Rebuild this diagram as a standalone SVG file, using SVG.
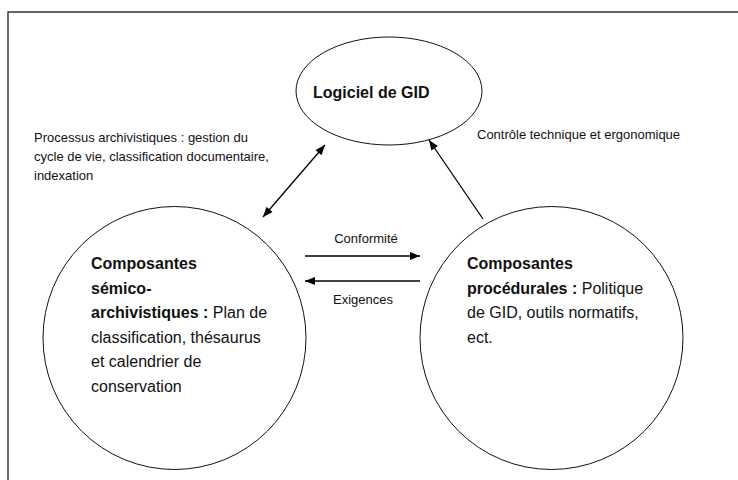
<svg xmlns="http://www.w3.org/2000/svg" width="738" height="480" viewBox="0 0 738 480">
<style>
.shape{fill:none;stroke:#111;stroke-width:1}
.frame{fill:none;stroke:#333;stroke-width:1.4}
.conn{stroke:#000;stroke-width:1.3;fill:none}
text{font-family:"Liberation Sans",Arial,sans-serif;fill:#111}
.lbl{font-size:13px}
.body{font-size:16px}
.b{font-weight:bold}
</style>
<defs>
<marker id="ah" viewBox="0 0 10 8" refX="10" refY="4" markerWidth="11" markerHeight="8" markerUnits="userSpaceOnUse" orient="auto-start-reverse">
<path d="M0,0 L10,4 L0,8 Z" fill="#000"/>
</marker>
</defs>
<rect width="738" height="480" fill="#fff"/>
<path class="frame" d="M8,480 V12 H738"/>
<g id="logiciel">
<ellipse class="shape" cx="389" cy="91" rx="93" ry="54"/>
<text class="body b" x="313" y="98">Logiciel de GID</text>
</g>
<g id="semico">
<circle class="shape" cx="174.5" cy="338" r="131.5"/>
<text class="body"><tspan class="b" x="91" y="269">Composantes</tspan><tspan class="b" x="91" y="293.5">sémico-</tspan><tspan x="91" y="318"><tspan class="b">archivistiques :</tspan> Plan de</tspan><tspan x="91" y="342.5">classification, thésaurus</tspan><tspan x="91" y="367">et calendrier de</tspan><tspan x="91" y="391.5">conservation</tspan></text>
</g>
<g id="procedurales">
<circle class="shape" cx="551.5" cy="338" r="131.5"/>
<text class="body"><tspan class="b" x="467" y="269">Composantes</tspan><tspan x="467" y="293.5"><tspan class="b">procédurales :</tspan> Politique</tspan><tspan x="467" y="318">de GID, outils normatifs,</tspan><tspan x="467" y="342.5">ect.</tspan></text>
</g>
<g id="connectors">
<line class="conn" x1="263" y1="217" x2="325" y2="145" marker-start="url(#ah)" marker-end="url(#ah)"/>
<line class="conn" x1="483" y1="219" x2="429" y2="140" marker-end="url(#ah)"/>
<line class="conn" x1="305" y1="256" x2="420" y2="256" marker-end="url(#ah)"/>
<line class="conn" x1="420" y1="281" x2="305" y2="281" marker-end="url(#ah)"/>
<text class="lbl"><tspan x="34" y="142">Processus archivistiques : gestion du</tspan><tspan x="34" y="161">cycle de vie, classification documentaire,</tspan><tspan x="34" y="180">indexation</tspan></text>
<text class="lbl" x="477" y="139">Contrôle technique et ergonomique</text>
<text class="lbl" x="366" y="243" text-anchor="middle">Conformité</text>
<text class="lbl" x="363" y="304" text-anchor="middle">Exigences</text>
</g>
</svg>
